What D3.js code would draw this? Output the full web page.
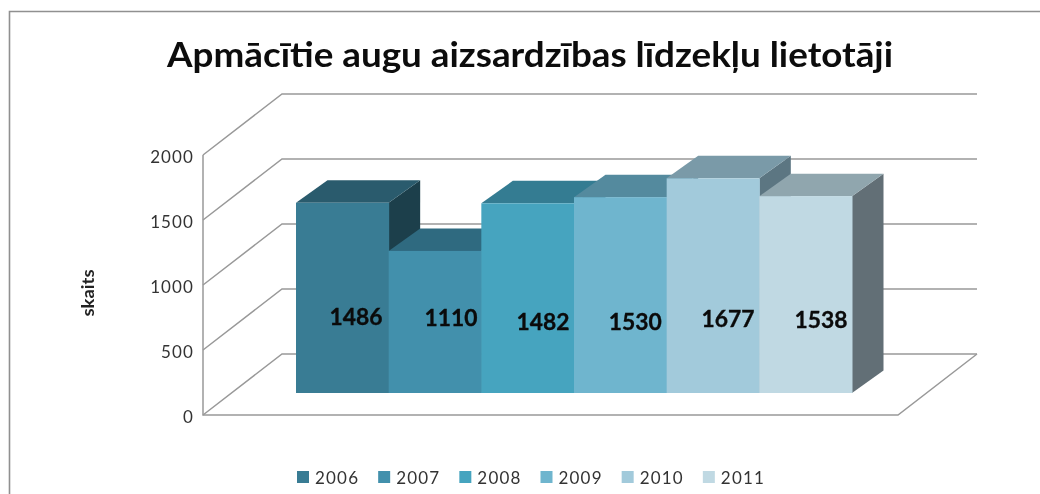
<!DOCTYPE html>
<html><head><meta charset="utf-8">
<script src="https://cdn.jsdelivr.net/npm/d3@7/dist/d3.min.js"></script>
<style>html,body{margin:0;padding:0;background:#fff;overflow:hidden}svg{display:block;filter:blur(.5px)}</style>
</head><body><div id="c"></div>
<script>
const years = ["2006","2007","2008","2009","2010","2011"];
const counts = [1486,1110,1482,1530,1677,1538];
const yTicks = [0,500,1000,1500,2000];
const frontColors = ["#397c94","#4290ac","#46a4bf","#6fb5ce","#a2cadb","#c0d9e3"];
const topColors = ["#2a5b6d","#2f6a80","#347c92","#548a9e","#7a9aa8","#90a6ae"];
const sideColors = ["#1c3f4b","#22505f","#2a6073","#3f6b7b","#5c7682","#626f76"];
const titleText = "Apmācītie augu aizsardzības līdzekļu lietotāji";
const axisTitle = "skaits";

const W=1040,H=494;
const svg=d3.select("#c").append("svg").attr("width",W).attr("height",H);
const grid="#999";
const font="Lato, 'Open Sans', sans-serif";

// frame
svg.append("path").attr("d",`M9.5,${H}V11.5H${W}`).attr("fill","none").attr("stroke","#909090").attr("stroke-width",1.6);

// title
svg.append("text").attr("x",530).attr("y",67).attr("text-anchor","middle")
  .attr("font-family",font).attr("font-weight",700).attr("font-size",33.5).attr("fill","#0c0c0c")
  .attr("textLength",726).attr("lengthAdjust","spacingAndGlyphs").text(titleText);

// walls
const yFront=d3.scaleLinear().domain([0,2000]).range([415,155]);
const floorDepth={x:79,y:-61};
const axisLeft=203, floorRight=898;
const gridG=svg.append("g").attr("fill","none").attr("stroke",grid).attr("stroke-width",1.5);
yTicks.forEach(t=>{
  const y=yFront(t);
  gridG.append("path").attr("d",`M${axisLeft},${y}L${axisLeft+floorDepth.x},${y+floorDepth.y}H${floorRight+floorDepth.x}`);
});
gridG.append("path").attr("d",`M${axisLeft},${yFront(2000)}V${yFront(0)}H${floorRight}L${floorRight+floorDepth.x},${yFront(0)+floorDepth.y}`);

// y labels
svg.append("g").selectAll("text").data(yTicks).join("text")
  .attr("x",194).attr("y",d=>yFront(d)+7.5).attr("text-anchor","end")
  .attr("font-family",font).attr("font-size",17).attr("letter-spacing",1.1).attr("fill","#333")
  .text(d=>d);

svg.append("text").attr("transform","translate(94,293) rotate(-90)").attr("text-anchor","middle")
  .attr("font-family",font).attr("font-weight",700).attr("font-size",17).attr("fill","#222")
  .attr("textLength",47).attr("lengthAdjust","spacingAndGlyphs").text(axisTitle);

// bars
const x=d3.scaleBand().domain(years).range([296,852]).padding(0);
const yBar=d3.scaleLinear().domain([0,2000]).range([393,137]);
const d3x=31.5,d3y=-22.5;
const g=svg.append("g").selectAll("g").data(years).join("g");
g.each(function(yr,i){
  const s=d3.select(this), x0=x(yr), x1=x0+x.bandwidth(), y0=yBar(0), yt=yBar(counts[i]);
  s.append("path").attr("fill",sideColors[i]).attr("d",`M${x1},${y0}L${x1+d3x},${y0+d3y}V${yt+d3y}L${x1},${yt}Z`);
  s.append("path").attr("fill",topColors[i]).attr("d",`M${x0},${yt}L${x0+d3x},${yt+d3y}H${x1+d3x}L${x1},${yt}Z`);
  s.append("rect").attr("fill",frontColors[i]).attr("x",x0).attr("y",yt).attr("width",x.bandwidth()+.5).attr("height",y0-yt);
});

// value labels
const labelNudgeX=[13.7,16,15.3,15,15,15.4], labelBaseline=[325,326,330,330,327,328];
svg.append("g").selectAll("text").data(counts).join("text")
  .attr("x",(d,i)=>x(years[i])+x.bandwidth()/2+labelNudgeX[i])
  .attr("y",(d,i)=>labelBaseline[i])
  .attr("text-anchor","middle").attr("font-family",font).attr("font-weight",700).attr("font-size",23.5)
  .attr("fill","#0b0b0b").attr("stroke","#0b0b0b").attr("stroke-width",.35)
  .attr("textLength",53).attr("lengthAdjust","spacingAndGlyphs")
  .text(d=>d);

// legend
const lx=d3.scaleBand().domain(years).range([297,784]);
const lg=svg.append("g").selectAll("g").data(years).join("g").attr("transform",d=>`translate(${lx(d)},471)`);
lg.append("rect").attr("width",12).attr("height",12).attr("fill",(d,i)=>frontColors[i]);
lg.append("text").attr("x",18).attr("y",13).attr("font-family",font).attr("font-size",17).attr("letter-spacing",1.2).attr("fill","#333").text(d=>d);
</script></body></html>
